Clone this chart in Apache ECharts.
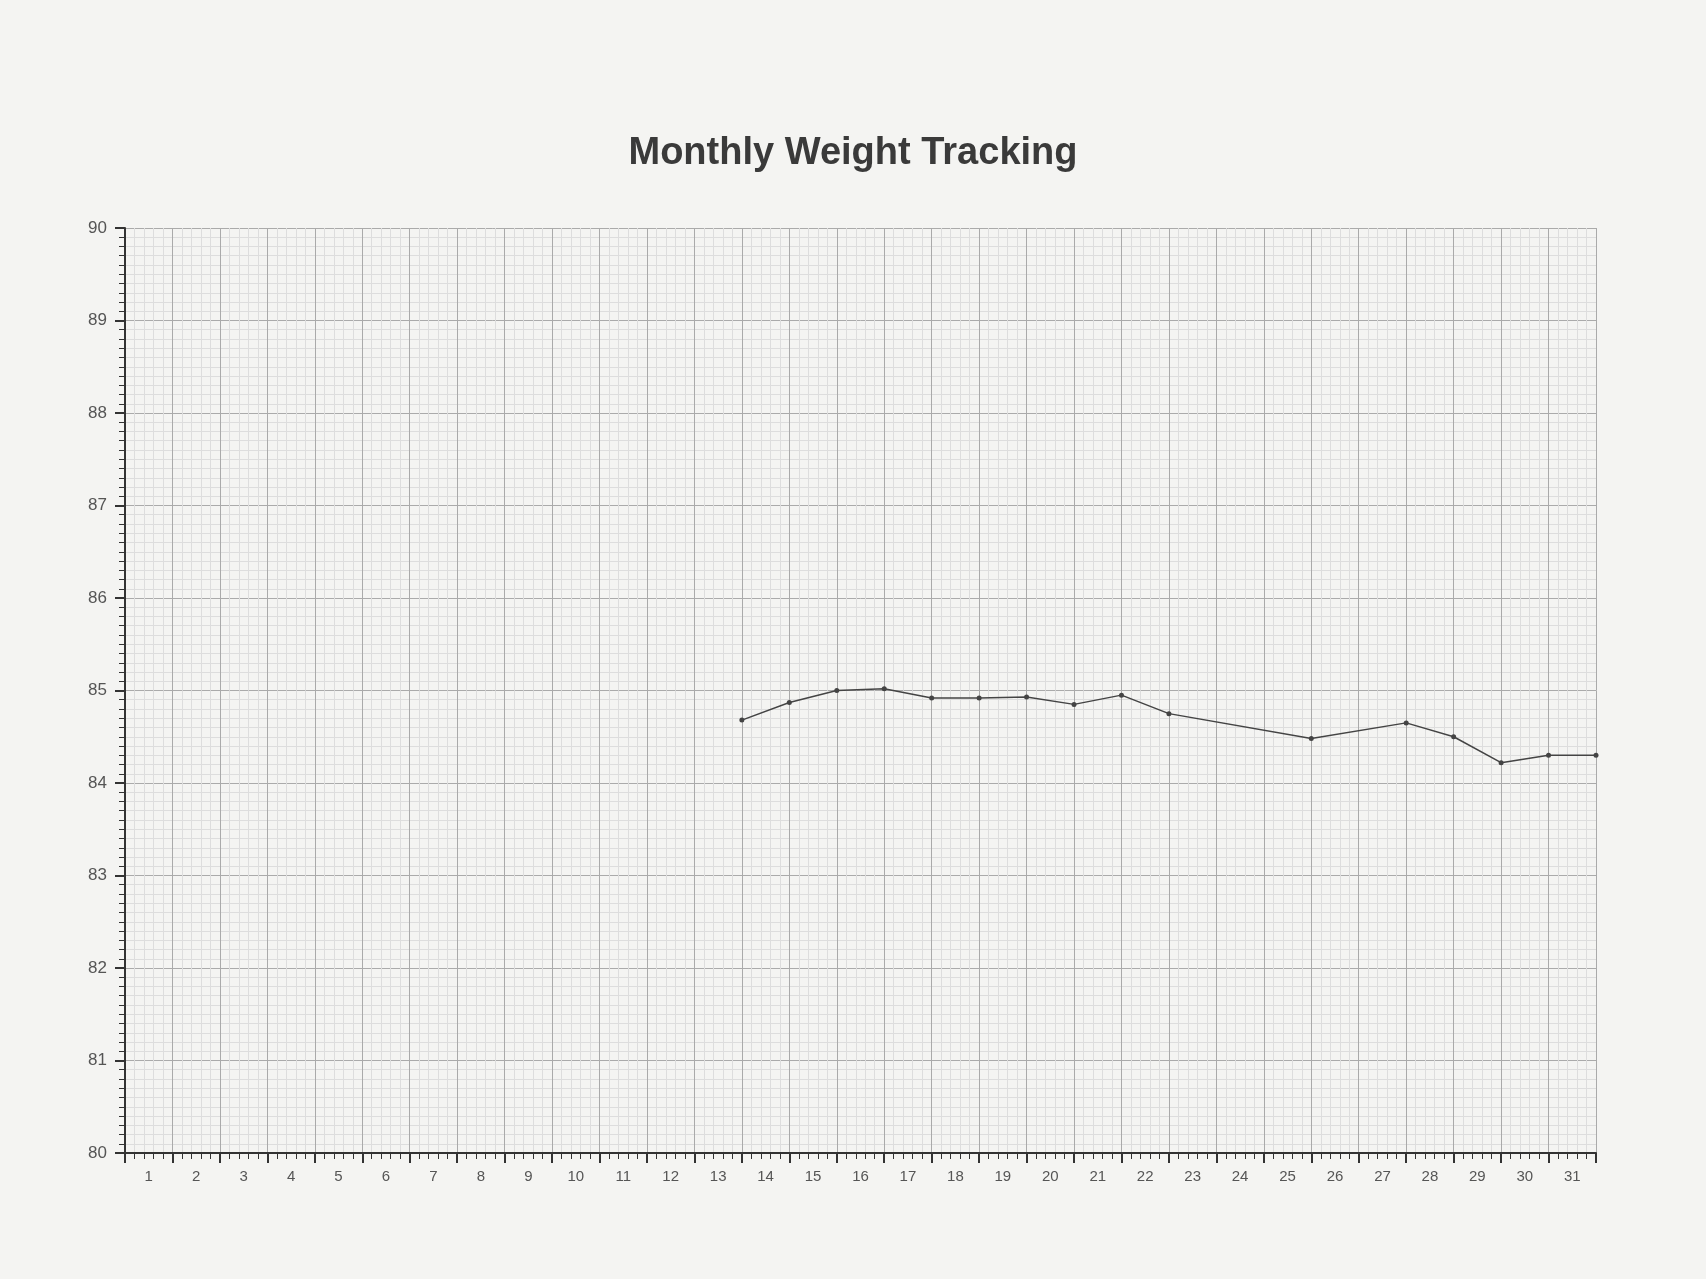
<!DOCTYPE html>
<html>
<head>
<meta charset="utf-8">
<script src="https://cdn.jsdelivr.net/npm/echarts@6/dist/echarts.min.js"></script>
<style>
  html, body { margin: 0; background: #f4f4f2; }
  #chart { width: 1706px; height: 1279px; }
</style>
</head>
<body>
<div id="chart"></div>
<script>
var days = [...Array(32).keys()].splice(1).map(String);
var pointDays = [13, 14, 15, 16, 17, 18, 19, 20, 21, 22, 25, 27, 28, 29, 30, 31];
var weights = [84.68, 84.87, 85.0, 85.02, 84.92, 84.92, 84.93, 84.85, 84.95, 84.75, 84.48, 84.65, 84.5, 84.22, 84.3, 84.3];

var myChart = echarts.init(document.getElementById('chart'));

var option = {
  backgroundColor: '#f4f4f2',
  title: {
    text: 'Monthly Weight Tracking',
    left: 'center',
    top: 130,
    textStyle: { color: '#3a3a3a', fontSize: 38, fontWeight: 'bold', fontFamily: 'Liberation Sans' }
  },
  grid: { left: 125, right: 110, top: 228, bottom: 126 },
  xAxis: [
    {
      type: 'value',
      min: 0,
      max: 31,
      interval: 1,
      axisLine: { lineStyle: { color: '#333', width: 2 } },
      axisTick: { length: 10, lineStyle: { color: '#333', width: 2 } },
      minorTick: { show: true, splitNumber: 5, length: 6, lineStyle: { color: '#333' } },
      axisLabel: { show: false },
      splitLine: { lineStyle: { color: '#aaa' } },
      minorSplitLine: { show: true, lineStyle: { color: '#ddd' } }
    },
    {
      type: 'category',
      data: days,
      position: 'bottom',
      axisLine: { show: false },
      axisTick: { show: false },
      axisLabel: { color: '#555', fontSize: 15, margin: 16, fontFamily: 'Liberation Sans' }
    }
  ],
  yAxis: {
    type: 'value',
    min: 80,
    max: 90,
    interval: 1,
    axisLine: { show: true, lineStyle: { color: '#333', width: 2 } },
    axisTick: { show: true, length: 10, lineStyle: { color: '#333', width: 2 } },
    minorTick: { show: true, splitNumber: 10, length: 6, lineStyle: { color: '#333' } },
    axisLabel: { color: '#555', fontSize: 17, margin: 18, fontFamily: 'Liberation Sans' },
    splitLine: { lineStyle: { color: '#aaa' } },
    minorSplitLine: { show: true, lineStyle: { color: '#ddd' } }
  },
  series: [
    {
      type: 'line',
      xAxisIndex: 0,
      data: pointDays.map(function (d, i) { return [d, weights[i]]; }),
      symbol: 'circle',
      symbolSize: 5,
      lineStyle: { color: '#444', width: 1.5 },
      itemStyle: { color: '#444' }
    }
  ]
};

myChart.setOption(option);
</script>
</body>
</html>
